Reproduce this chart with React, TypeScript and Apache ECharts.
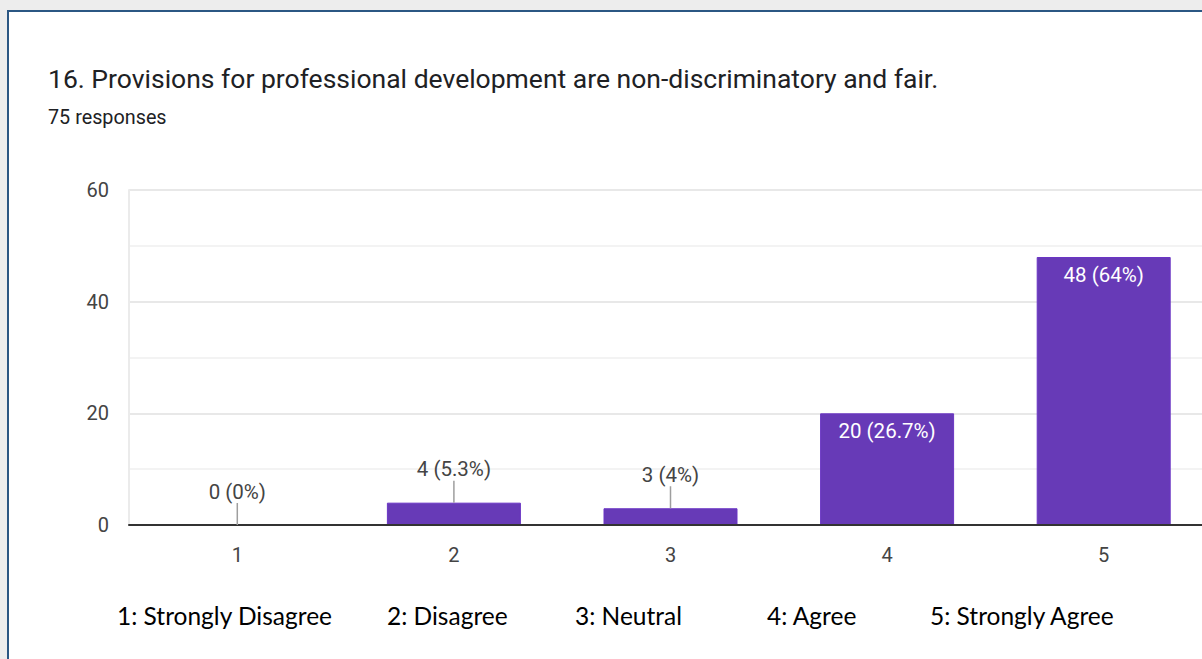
import React, { useEffect, useRef } from "react";
import * as echarts from "echarts";

const categories = ["1", "2", "3", "4", "5"];
const counts = [0, 4, 3, 20, 48];
const totalResponses = 75;
const yMin = 0;
const yMax = 60;
const yInterval = 20;
const scaleLabels = [
  "1: Strongly Disagree",
  "2: Disagree",
  "3: Neutral",
  "4: Agree",
  "5: Strongly Agree",
];
const scaleLabelX = [117, 387, 575, 767, 930];
const titleText =
  "16. Provisions for professional development are non-discriminatory and fair.";
const subtitleText = `${totalResponses} responses`;
const insideThreshold = 10;

const BAR_COLOR = "#673ab7";
const FONT = "Roboto, 'Liberation Sans', Arial, sans-serif";

function labelText(v: number): string {
  const p = Math.round((v / totalResponses) * 1000) / 10;
  return `${v} (${p}%)`;
}

export default function App() {
  const ref = useRef<HTMLDivElement>(null);

  useEffect(() => {
    if (!ref.current) return;
    const chart = echarts.init(ref.current, undefined, { renderer: "svg" });

    const barData = counts.map((v) => ({
      value: v,
      label:
        v >= insideThreshold
          ? {
              show: true,
              position: "insideTop",
              distance: 7,
              color: "#ffffff",
              fontSize: 20.5,
              fontFamily: FONT,
              formatter: () => labelText(v),
            }
          : { show: false },
    }));

    const outsideData = counts
      .map((v, i) => [i, v, labelText(v)])
      .filter((d) => (d[1] as number) < insideThreshold);

    chart.setOption({
      animation: false,
      backgroundColor: "#ededed",
      graphic: [
        {
          type: "rect",
          z: -10,
          silent: true,
          shape: { x: 8, y: 11, width: 1400, height: 800 },
          style: { fill: "#ffffff", stroke: "#2b5783", lineWidth: 2 },
        },
        {
          type: "text",
          x: 48,
          y: 78,
          style: {
            text: titleText,
            font: `400 26.5px ${FONT}`,
            fill: "#202124",
            textAlign: "left",
            textVerticalAlign: "middle",
            verticalAlign: "middle",
          },
        },
        {
          type: "text",
          x: 48,
          y: 117,
          style: {
            text: subtitleText,
            font: `400 19.8px ${FONT}`,
            fill: "#202124",
            textAlign: "left",
            textVerticalAlign: "middle",
            verticalAlign: "middle",
          },
        },
        ...scaleLabels.map((t, i) => ({
          type: "text",
          x: scaleLabelX[i],
          y: 615,
          style: {
            text: t,
            font: `400 24.5px Lato, 'Open Sans', sans-serif`,
            fill: "#000000",
            textAlign: "left",
            textVerticalAlign: "middle",
            verticalAlign: "middle",
          },
        })),
      ],
      grid: {
        left: 129,
        right: 28,
        top: 190,
        bottom: 134,
        containLabel: false,
        outerBoundsMode: "none",
      },
      xAxis: {
        type: "category",
        data: categories,
        axisLine: { show: true, lineStyle: { color: "#333333", width: 2 } },
        axisTick: { show: false },
        axisLabel: {
          fontSize: 20,
          fontFamily: FONT,
          color: "#444444",
          margin: 20,
        },
        z: 5,
      },
      yAxis: {
        type: "value",
        min: yMin,
        max: yMax,
        interval: yInterval,
        axisLine: { show: true, lineStyle: { color: "#ebebeb", width: 2 } },
        axisTick: { show: false },
        axisLabel: {
          fontSize: 20,
          fontFamily: FONT,
          color: "#444444",
          margin: 20,
        },
        splitLine: { show: true, lineStyle: { color: "#e8e8e8", width: 2 } },
        minorTick: { show: false, splitNumber: 2 },
        minorSplitLine: { show: true, lineStyle: { color: "#f3f3f3", width: 2 } },
      },
      series: [
        {
          type: "bar",
          data: barData,
          barWidth: 134,
          itemStyle: { color: BAR_COLOR, borderColor: "#6a35c4", borderWidth: 1 },
          z: 3,
        },
        {
          type: "custom",
          data: outsideData,
          encode: { x: 0, y: 1 },
          z: 6,
          renderItem: (params: any, api: any) => {
            const p = api.coord([api.value(0), api.value(1)]);
            const text = outsideData[params.dataIndex][2] as string;
            return {
              type: "group",
              children: [
                {
                  type: "line",
                  shape: { x1: p[0], y1: p[1], x2: p[0], y2: p[1] - 22 },
                  style: { stroke: "#9e9e9e", lineWidth: 1.5 },
                },
                {
                  type: "text",
                  x: p[0],
                  y: p[1] - 23,
                  style: {
                    text,
                    font: `400 20.5px ${FONT}`,
                    fill: "#444444",
                    textAlign: "center",
                    textVerticalAlign: "bottom",
                    verticalAlign: "bottom",
                  },
                },
              ],
            };
          },
        },
      ],
    });

    return () => chart.dispose();
  }, []);

  return (
    <div
      style={{
        position: "fixed",
        left: 0,
        top: 0,
        width: 1202,
        height: 659,
        overflow: "hidden",
      }}
    >
      <div ref={ref} style={{ width: 1240, height: 659 }} />
    </div>
  );
}
